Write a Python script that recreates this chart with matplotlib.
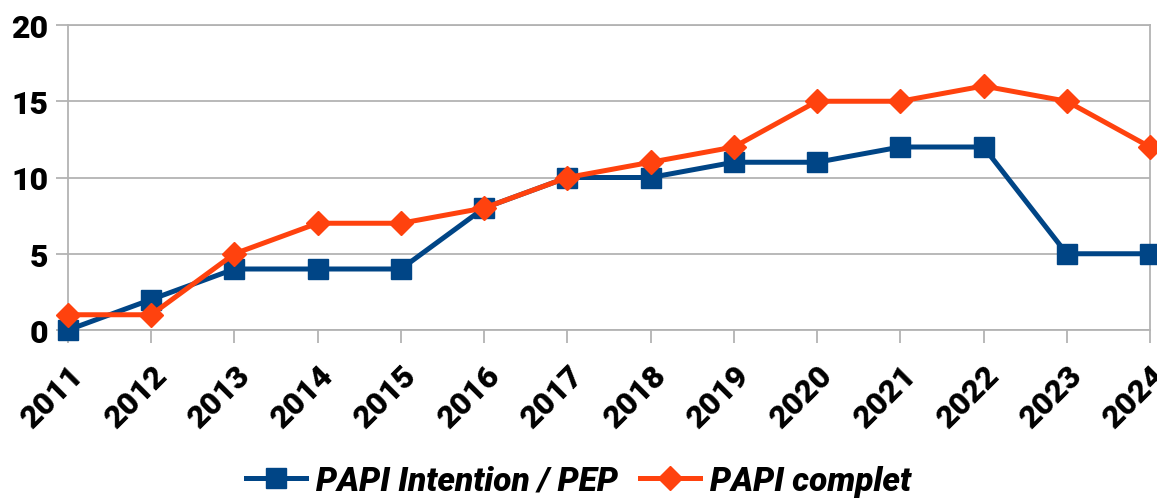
import matplotlib
matplotlib.use("Agg")
from matplotlib import pyplot as plt

# Valeurs
annees = [2011, 2012, 2013, 2014, 2015, 2016, 2017, 2018, 2019, 2020, 2021, 2022, 2023, 2024]
papi_intention = [0, 2, 4, 4, 4, 8, 10, 10, 11, 11, 12, 12, 5, 5]
papi_complet = [1, 1, 5, 7, 7, 8, 10, 11, 12, 15, 15, 16, 15, 12]
y_ticks = [0, 5, 10, 15, 20]

plt.rcParams['font.family'] = ['Roboto', 'DejaVu Sans']

fig = plt.figure(figsize=(11.57, 5.02), dpi=100)
ax = fig.add_axes([68 / 1157, 1 - 331 / 502, (1150 - 68) / 1157, (331 - 26) / 502])

gris = '#b3b3b3'
ax.plot(annees, papi_intention, color='#004586', linewidth=3.6, marker='s',
        markersize=14, label='PAPI Intention / PEP', clip_on=False, zorder=3)
ax.plot(annees, papi_complet, color='#ff420e', linewidth=3.6, marker='D',
        markersize=12, label='PAPI complet', clip_on=False, zorder=4)

ax.set_xlim(2011, 2024)
ax.set_ylim(0, 20)
ax.set_yticks(y_ticks)
ax.set_xticks(annees)
ax.set_xticklabels([str(a) for a in annees], rotation=45, ha='right',
                   rotation_mode='anchor')
ax.yaxis.grid(True, color=gris, linewidth=1.3)
ax.set_axisbelow(True)
for s in ax.spines.values():
    s.set_color(gris)
    s.set_linewidth(1.3)
ax.tick_params(axis='both', colors=gris, length=9, width=1.3, labelcolor='black')
ax.tick_params(axis='y', pad=5)
ax.tick_params(axis='x', pad=12)
for lab in ax.get_xticklabels() + ax.get_yticklabels():
    lab.set_fontsize(23)
    lab.set_fontweight('heavy')

leg = fig.legend(loc='center', bbox_to_anchor=(0.5, 1 - 482 / 502), ncol=2,
                 frameon=False, handlelength=1.8, columnspacing=0.65,
                 handletextpad=0.3,
                 prop={'size': 24, 'weight': 'heavy', 'style': 'italic'})

fig.savefig('out.png', dpi=100)
